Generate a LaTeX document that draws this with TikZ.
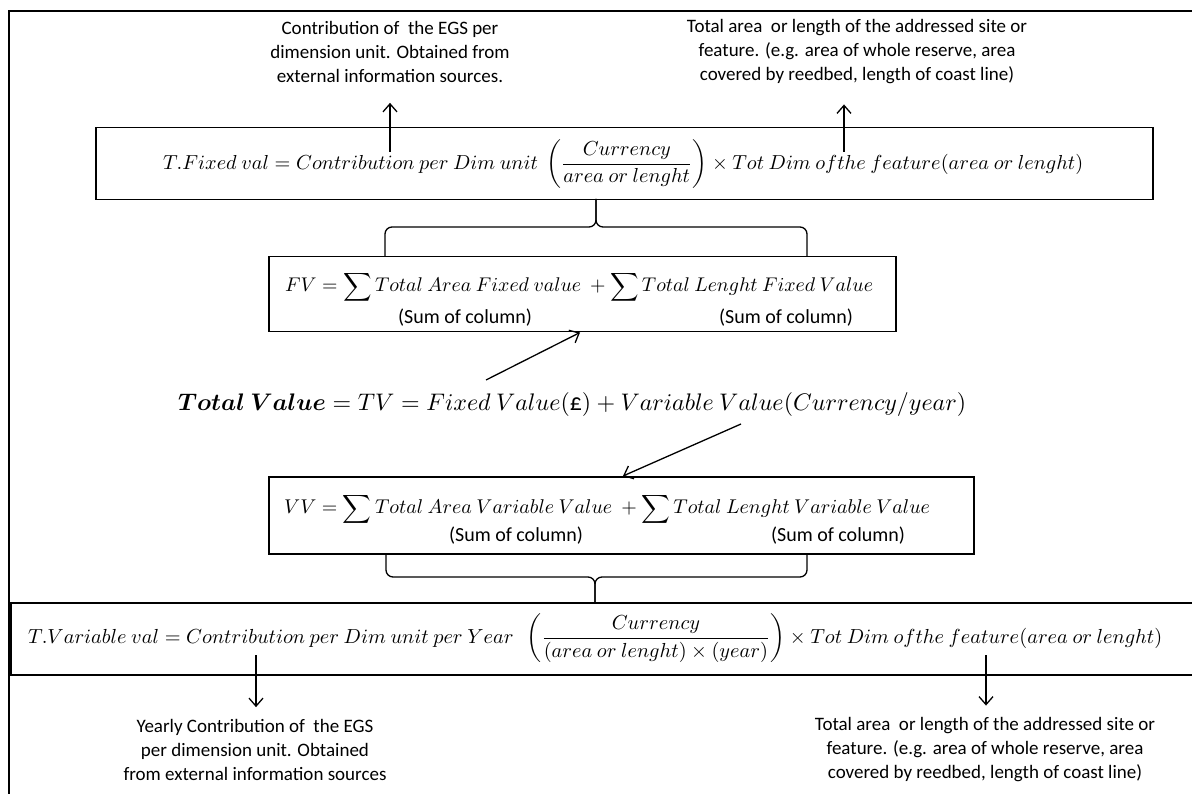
\documentclass[tikz,border=0pt]{standalone}
\usepackage{amsmath}
\usepackage{bm}
\usepackage{graphicx}
\usepackage[no-math]{fontspec}
\setmainfont{Carlito}
\usetikzlibrary{arrows.meta}
\newcommand{\fitw}[2]{\resizebox{#1}{!}{#2}}
\tikzset{
  frame/.style={draw, line width=2pt},
  box/.style={draw, line width=1.5pt},
  arr/.style={line width=1.3pt, -{Straight Barb[length=8pt,width=14pt,line width=1.3pt]}},
  brace/.style={line width=1.3pt, rounded corners=7pt},
  note/.style={align=center, font=\fontsize{19}{24}\selectfont, inner sep=0pt},
  formula/.style={inner sep=0pt},
  soc/.style={inner sep=0pt, font=\fontsize{20}{22}\selectfont}
}
\begin{document}
\begin{tikzpicture}[x=1pt,y=-1pt]
\useasboundingbox (0,0) rectangle (1192,794);
\draw[frame] (9,11) rectangle (1210,810);

% top notes
\node[note] (tl) at (390,52) {Contribution of \ the EGS per\\dimension unit. Obtained from\\external information sources.};
\node[note] (tr) at (857,52) {Total area \ or length of the addressed site or\\feature. (e.g. area of whole reserve, area\\covered by reedbed, length of coast line)};

% fixed value box
\node[box, minimum width=1057pt, minimum height=72pt, anchor=north west] (fixbox) at (95,127) {};
\node[formula, anchor=west] (fixf) at (163,164) {\fitw{920pt}{$T.Fixed\ val = Contribution\ per\ Dim\ unit\ \left(\dfrac{Currency}{area\ or\ lenght}\right) \times Tot\ Dim\ of the\ feature(area\ or\ lenght)$}};
\coordinate (a1) at (390,152);
\coordinate (a2) at (844,152);
\draw[arr, shorten >=20pt] (a1) -- (tl.south -| a1);
\draw[arr, shorten >=20pt] (a2) -- (tr.south -| a2);

% brace 1
\coordinate (b1c) at (596,199);
\draw[brace] (385,256) -- (385,227) -- (596,227) -- (b1c);
\draw[brace] (807,256) -- (807,227) -- (596,227) -- (b1c);

% FV box
\node[box, minimum width=627pt, minimum height=75pt, anchor=north west] (fvbox) at (268,256) {};
\node[formula, anchor=west] (fvf) at (285,287) {\fitw{588pt}{$FV = \displaystyle\sum Total\ Area\ Fixed\ value\ + \sum Total\ Lenght\ Fixed\ Value$}};
\node[soc] (fvs1) at (465,318) {(Sum of column)};
\node[soc] (fvs2) at (786,318) {(Sum of column)};

% total value
\node[formula, anchor=west] (tv) at (178,405) {\fitw{788pt}{$\bm{Total\ Value} = TV = Fixed\ Value(\mbox{\pounds}) + Variable\ Value(Currency/year)$}};

% VV box
\node[box, minimum width=705pt, minimum height=77pt, anchor=north west] (vvbox) at (268,476) {};
\node[formula, anchor=west] (vvf) at (284,509) {\fitw{646pt}{$VV = \displaystyle\sum Total\ Area\ Variable\ Value\ + \sum Total\ Lenght\ Variable\ Value$}};
\node[soc] (vvs1) at (516,536) {(Sum of column)};
\node[soc] (vvs2) at (838,536) {(Sum of column)};

\coordinate (c1) at (486,380);
\coordinate (c2) at (741,424);
\draw[arr] (c1) -- (fvbox.south -| 580,0);
\draw[arr] (c2) -- (vvbox.north -| 623,0);

% brace 2
\coordinate (b2c) at (595,602);
\draw[brace] (386,553) -- (386,577) -- (595,577) -- (b2c);
\draw[brace] (807,553) -- (807,577) -- (595,577) -- (b2c);

% variable value box
\node[box, minimum width=1200pt, minimum height=72pt, anchor=north west] (varbox) at (10,602) {};
\node[formula, anchor=west] (varf) at (28,638) {\fitw{1134pt}{$T.Variable\ val = Contribution\ per\ Dim\ unit\ per\ Year\ \ \left(\dfrac{Currency}{(area\ or\ lenght)\times(year)}\right) \times Tot\ Dim\ of the\ feature(area\ or\ lenght)$}};

% bottom notes
\node[note] (bl) at (255,750) {Yearly Contribution of \ the EGS\\per dimension unit. Obtained\\from external information sources};
\node[note] (br) at (985,750) {Total area \ or length of the addressed site or\\feature. (e.g. area of whole reserve, area\\covered by reedbed, length of coast line)};
\coordinate (d1) at (256,655);
\coordinate (d2) at (986,655);
\draw[arr, shorten >=12pt] (d1) -- (bl.north -| d1);
\draw[arr, shorten >=12pt] (d2) -- (br.north -| d2);
\end{tikzpicture}
\end{document}
